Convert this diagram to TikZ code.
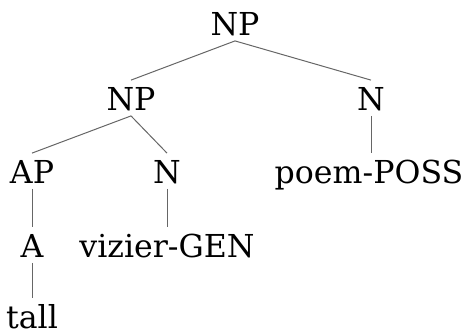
\documentclass[tikz,border=0pt]{standalone}
\usepackage{fontspec}
\setmainfont{DejaVu Serif}
\begin{document}
\begin{tikzpicture}[x=0.5pt, y=-0.5pt,
    cat/.style={anchor=base, inner xsep=0pt, inner ysep=2.75pt,
        text height=12pt, text depth=0pt, font=\fontsize{15.8}{19}\selectfont},
    branch/.style={draw=black!60, line width=0.5pt}]
    \useasboundingbox (0,0) rectangle (467,334);
    \foreach \nname/\x/\y/\txt in {np/235/35/NP, np-a/131/110/NP, n-b/371/110/N,
        ap/32/183/AP, n-a/167/183/N, poss/369/183/poem-POSS,
        a/32/257/A, gen/167/257/vizier-GEN, tall/32/328/tall} {
        \node[cat] (\nname) at (\x,\y) {\txt};
    }
    \foreach \p/\c in {np/np-a, np/n-b, np-a/ap, np-a/n-a, ap/a, n-a/gen, a/tall} {
        \draw[branch] (\p.south) -- (\c.north);
    }
    \draw[branch] (n-b.south) -- (n-b.south |- poss.north);
\end{tikzpicture}
\end{document}
